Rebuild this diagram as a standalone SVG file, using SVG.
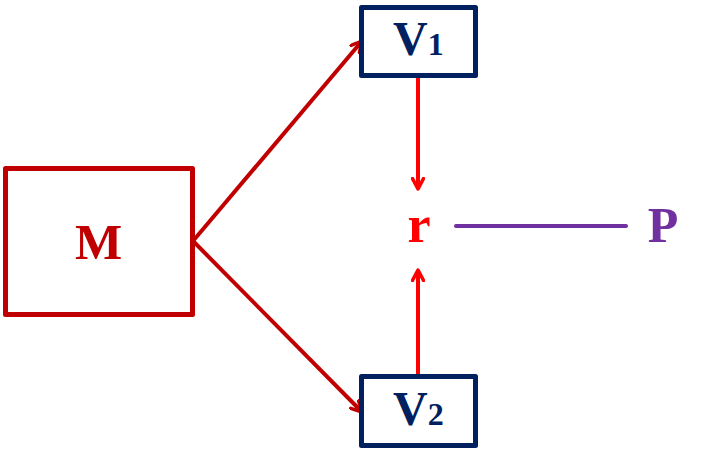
<svg xmlns="http://www.w3.org/2000/svg" width="703" height="460" viewBox="0 0 703 460">
<defs>
<style>
.box{fill:#fff;stroke-width:5;stroke-linejoin:round}
.lbl{font-family:"Liberation Serif","Times New Roman",serif;font-weight:bold}
</style>
<marker id="ahDark" viewBox="0 0 14 14" refX="12" refY="7" markerWidth="14" markerHeight="14" markerUnits="userSpaceOnUse" orient="auto">
<path d="M1.5,1.5 L12,7 L1.5,12.5" fill="none" stroke="#c00000" stroke-width="3.5" stroke-linecap="round" stroke-linejoin="round"/>
</marker>
<marker id="ahRed" viewBox="0 0 14 14" refX="12" refY="7" markerWidth="14" markerHeight="14" markerUnits="userSpaceOnUse" orient="auto">
<path d="M1.5,1.5 L12,7 L1.5,12.5" fill="none" stroke="#ff0000" stroke-width="3.5" stroke-linecap="round" stroke-linejoin="round"/>
</marker>
</defs>
<rect width="703" height="460" fill="#fff"/>
<g id="connectors" fill="none" stroke-width="4">
<line x1="193" y1="241" x2="362" y2="41" stroke="#c00000" marker-end="url(#ahDark)"/>
<line x1="193" y1="241" x2="362" y2="412" stroke="#c00000" marker-end="url(#ahDark)"/>
<line x1="418" y1="78" x2="418" y2="189" stroke="#ff0000" marker-end="url(#ahRed)"/>
<line x1="418" y1="374" x2="418" y2="270" stroke="#ff0000" marker-end="url(#ahRed)"/>
<line x1="456" y1="226" x2="626" y2="226" stroke="#7030a0" stroke-width="4" stroke-linecap="round"/>
</g>
<g id="M">
<rect class="box" x="5.5" y="168.5" width="187" height="146" stroke="#c00000" stroke-width="6"/>
<text class="lbl" x="98.5" y="259" font-size="50" text-anchor="middle" fill="#c00000">M</text>
</g>
<g id="V1">
<rect class="box" x="361.5" y="7.5" width="114" height="68" stroke="#002060"/>
<text class="lbl" x="393" y="55" fill="#002060"><tspan font-size="48">V</tspan><tspan font-size="32">1</tspan></text>
</g>
<g id="V2">
<rect class="box" x="361.5" y="376.5" width="114" height="69" stroke="#002060"/>
<text class="lbl" x="393" y="425" fill="#002060"><tspan font-size="48">V</tspan><tspan font-size="32">2</tspan></text>
</g>
<g id="r">
<text class="lbl" x="419" y="242" font-size="52" text-anchor="middle" fill="#ff0000">r</text>
</g>
<g id="P">
<text class="lbl" x="663" y="242" font-size="50" text-anchor="middle" fill="#7030a0">P</text>
</g>
</svg>
